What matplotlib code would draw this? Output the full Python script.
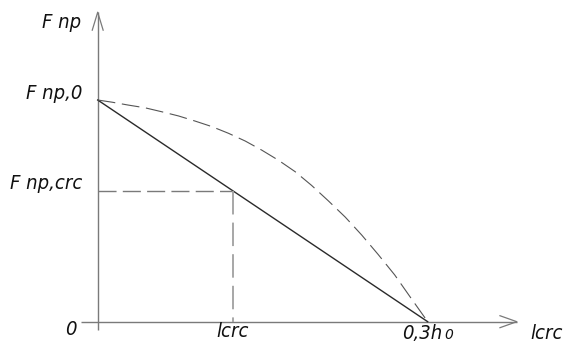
import matplotlib
matplotlib.use("Agg")
import matplotlib.pyplot as plt

# данные в относительных единицах: x = l / (0.3h0), y = F / Fnp,0
line_x = [0.0, 1.0]
line_y = [1.0, 0.0]

# пунктирная кривая
curve_x = [0.0, 0.044, 0.093, 0.143, 0.194, 0.245, 0.295, 0.346, 0.396, 0.447,
           0.497, 0.548, 0.598, 0.648, 0.699, 0.75, 0.80, 0.85, 0.90, 0.95, 1.0]
curve_y = [1.0, 0.99, 0.977, 0.965, 0.947, 0.928, 0.905, 0.88, 0.85, 0.815,
           0.774, 0.728, 0.677, 0.615, 0.545, 0.472, 0.391, 0.303, 0.211, 0.105, 0.0]

l_crc = 0.409
F_crc = 0.591

fnt = ['DejaVu Sans']
gray = '#7a7a7a'

# масштаб: пикселей на единицу
sx, sy = 330, 221.7
ox, oy = 97.7, 321.7

fig = plt.figure(figsize=(5.64, 3.45), dpi=100)
ax = fig.add_axes([0, 0, 1, 1])
ax.set_xlim(-ox / sx, (564 - ox) / sx)
ax.set_ylim(-(345 - oy) / sy, oy / sy)
ax.axis('off')

# оси со стрелками
ax.plot([0, 0], [-0.036, 1.396], color=gray, lw=1.0, solid_capstyle='butt')
ax.plot([-0.051, 1.27], [0, 0], color=gray, lw=1.0, solid_capstyle='butt')
ax.plot([-0.0165, 0, 0.0165], [1.315, 1.396, 1.315], color=gray, lw=0.9)
ax.plot([1.219, 1.27, 1.219], [0.027, 0, -0.027], color=gray, lw=0.9)

# прямая и кривая
ax.plot(line_x, line_y, color='#2a2a2a', lw=1.0)
ax.plot(curve_x, curve_y, color='#555555', lw=0.8, dashes=(16, 6))

# выноски lcrc / Fnp,crc
ax.plot([0, l_crc], [F_crc, F_crc], color=gray, lw=1.0, dashes=(13, 4.5))
ax.plot([l_crc, l_crc], [F_crc, 0], color='#a0a0a0', lw=1.3, dashes=(13, 4.5))

kw = dict(family=fnt, style='italic', stretch='condensed', fontsize=14.5, color='#111111')
ax.text(-0.051, 1.324, 'F np', ha='right', va='baseline', **kw)
ax.text(-0.047, 1.005, 'F np,0', ha='right', va='baseline', **kw)
ax.text(-0.047, 0.599, 'F np,crc', ha='right', va='baseline', **kw)
ax.text(-0.065, -0.059, '0', ha='right', va='baseline', **kw)
ax.text(l_crc, -0.068, 'lcrc', ha='center', va='baseline', **kw)
ax.text(0.922, -0.077, '0,3h', ha='left', va='baseline', **kw)
ax.text(1.05, -0.077, '0', ha='left', va='baseline',
        family=fnt, style='italic', fontsize=10, color='#111111')
ax.text(1.31, -0.077, 'lcrc', ha='left', va='baseline', **kw)

fig.savefig('out.png', dpi=100)
